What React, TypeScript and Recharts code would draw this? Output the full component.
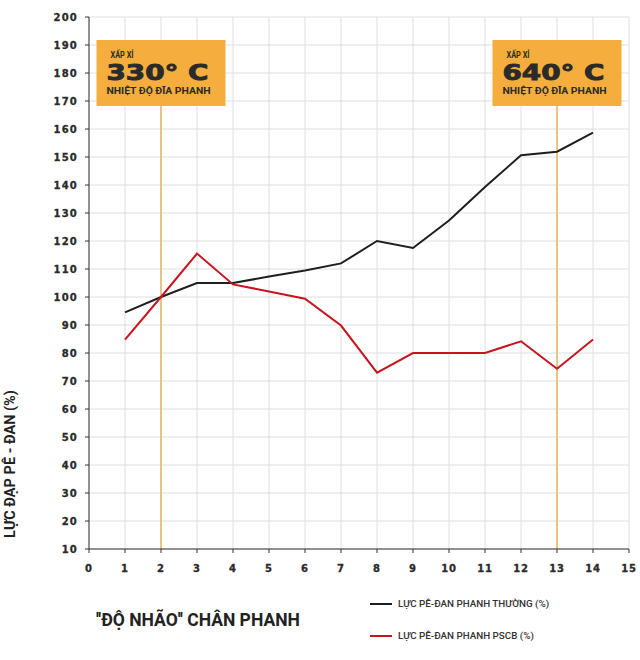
import React, { useLayoutEffect } from "react";
import {
  LineChart,
  Line,
  XAxis,
  YAxis,
  CartesianGrid,
  ReferenceLine,
  ReferenceDot,
} from "recharts";

const pedalTravel = [1, 2, 3, 4, 5, 6, 7, 8, 9, 10, 11, 12, 13, 14];
const normalBrake = [94.5, 100, 105, 105, 107.3, 109.5, 112, 120, 117.5, 127.3, 139.3, 150.6, 151.9, 158.7];
const pscbBrake = [84.8, 100, 115.5, 104.5, 102, 99.4, 89.8, 73, 80, 80, 80, 84.2, 74.4, 84.8];
const xTicks = [0, 1, 2, 3, 4, 5, 6, 7, 8, 9, 10, 11, 12, 13, 14, 15];
const yTicks = [10, 20, 30, 40, 50, 60, 70, 80, 90, 100, 110, 120, 130, 140, 150, 160, 170, 180, 190, 200];

const markers = [
  { x: 2, temp: "330° C" },
  { x: 13, temp: "640° C" },
];
const markerTop = 190;
const markerLineTop = 170;

const yAxisTitle = "LỰC ĐẠP PÊ - ĐAN (%)";
const xAxisTitle = "''ĐỘ NHÃO'' CHÂN PHANH";
const seriesNames = ["LỰC PÊ-ĐAN PHANH THƯỜNG (%)", "LỰC PÊ-ĐAN PHANH PSCB (%)"];
const seriesColors = ["#1e1e1e", "#c8141e"];

const data = pedalTravel.map((x, i) => ({
  x,
  normal: normalBrake[i],
  pscb: pscbBrake[i],
}));

const ORANGE = "#F5AE3D";
const TICK_FONT = "'DejaVu Sans', sans-serif";

const YTick = (props: any) => {
  const { x, y, payload } = props;
  return (
    <text
      x={x}
      y={y}
      dy={3.5}
      textAnchor="end"
      fontFamily={TICK_FONT}
      fontWeight="bold"
      fontSize={10}
      letterSpacing={1.2}
      fill="#2b2b2b"
      stroke="#2b2b2b"
      strokeWidth={0.3}
    >
      {payload.value}
    </text>
  );
};

const XTick = (props: any) => {
  const { x, y, payload } = props;
  return (
    <text
      x={x}
      y={y}
      dy={17}
      textAnchor="middle"
      fontFamily={TICK_FONT}
      fontWeight="bold"
      fontSize={10}
      letterSpacing={0.8}
      fill="#2b2b2b"
      stroke="#2b2b2b"
      strokeWidth={0.3}
    >
      {payload.value}
    </text>
  );
};

const YLabel = () => (
  <text
    x={10}
    y={464}
    transform="rotate(-90 10 464)"
    textAnchor="middle"
    dominantBaseline="central"
    fontFamily="Roboto, sans-serif"
    fontWeight="bold"
    fontSize={14.5}
    fill="#222"
  >
    {yAxisTitle}
  </text>
);

const makeBox = (temp: string) => (props: any) => {
  const { cx, cy } = props;
  const left = cx - 64.5;
  const top = cy - 5;
  return (
    <g>
      <rect x={left} y={top} width={129} height={66} fill={ORANGE} />
      <text
        x={left + 14}
        y={top + 18}
        fontFamily="Roboto, sans-serif"
        fontWeight="bold"
        fontSize={8.5}
        textLength={23}
        lengthAdjust="spacingAndGlyphs"
        fill="#2a2a2a"
      >
        XẤP XỈ
      </text>
      <text
        x={left + 10}
        y={top + 40}
        fontFamily={TICK_FONT}
        fontWeight="bold"
        fontSize={21}
        textLength={102}
        lengthAdjust="spacingAndGlyphs"
        fill="#2a2a2a"
        stroke="#2a2a2a"
        strokeWidth={0.9}
      >
        {temp}
      </text>
      <text
        x={left + 10}
        y={top + 54}
        fontFamily="Roboto, sans-serif"
        fontWeight="bold"
        fontSize={9}
        textLength={104}
        lengthAdjust="spacingAndGlyphs"
        fill="#2a2a2a"
      >
        NHIỆT ĐỘ ĐĨA PHANH
      </text>
    </g>
  );
};

export default function App() {
  useLayoutEffect(() => {
    document.body.style.margin = "0";
  }, []);
  return (
    <div style={{ position: "relative", width: 640, height: 660, background: "#fff" }}>
      <LineChart
        width={640}
        height={660}
        data={data}
        margin={{ top: 17, right: 11, left: 0, bottom: 81 }}
        style={{ overflow: "visible" }}
      >
        <CartesianGrid stroke="#dedede" strokeWidth={1} />
        <XAxis
          dataKey="x"
          type="number"
          domain={[0, 15]}
          ticks={xTicks}
          interval={0}
          height={30}
          stroke="#333"
          tickSize={4}
          tickLine={{ stroke: "#333" }}
          tick={<XTick />}
        />
        <YAxis
          type="number"
          domain={[10, 200]}
          ticks={yTicks}
          interval={0}
          width={89}
          stroke="#333"
          tickSize={4}
          tickMargin={7}
          tick={<YTick />}
          label={<YLabel />}
        />
        {markers.map((m) => (
          <ReferenceLine
            key={"l" + m.x}
            segment={[
              { x: m.x, y: 10 },
              { x: m.x, y: markerLineTop },
            ]}
            stroke="#E8A838"
            strokeWidth={1.2}
          />
        ))}
        <Line
          dataKey="normal"
          stroke={seriesColors[0]}
          strokeWidth={2}
          dot={false}
          isAnimationActive={false}
        />
        <Line
          dataKey="pscb"
          stroke={seriesColors[1]}
          strokeWidth={2}
          dot={false}
          isAnimationActive={false}
        />
        {markers.map((m) => (
          <ReferenceDot
            key={"b" + m.x}
            x={m.x}
            y={markerTop}
            r={0}
            shape={makeBox(m.temp)}
          />
        ))}
      </LineChart>

      <div
        style={{
          position: "absolute",
          left: 96,
          top: 609,
          whiteSpace: "nowrap",
          fontFamily: "Roboto, sans-serif",
          fontWeight: "bold",
          fontSize: 17.5,
          color: "#222",
          lineHeight: "22px",
        }}
      >
        {xAxisTitle}
      </div>

      {seriesNames.map((name, i) => (
        <div
          key={name}
          style={{
            position: "absolute",
            left: 370,
            top: 598 + i * 32,
            display: "flex",
            alignItems: "center",
            whiteSpace: "nowrap",
            fontFamily: "Roboto, sans-serif",
            fontWeight: 500,
            fontSize: 9.8,
            color: "#333",
            lineHeight: "12px",
          }}
        >
          <span
            style={{
              display: "inline-block",
              width: 22,
              height: 2,
              background: seriesColors[i],
              marginRight: 6,
            }}
          />
          {name}
        </div>
      ))}
    </div>
  );
}
